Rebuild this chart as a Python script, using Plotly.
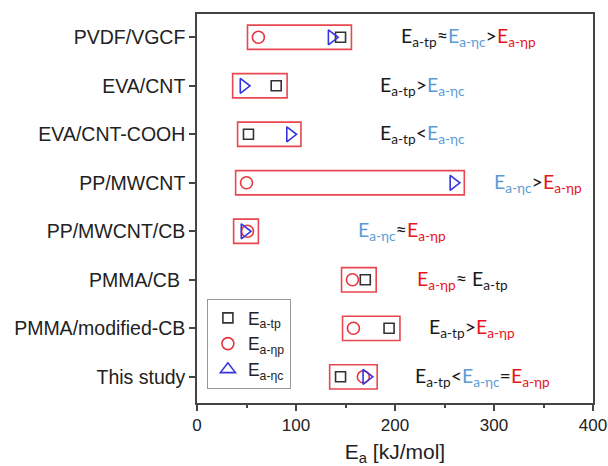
import plotly.graph_objects as go

# ---- data (top row first) ----
systems = ["PVDF/VGCF", "EVA/CNT", "EVA/CNT-COOH", "PP/MWCNT", "PP/MWCNT/CB",
           "PMMA/CB ", "PMMA/modified-CB", "This study"]
E_tp = [145, 80, 52, None, None, 170, 194, 145]
E_np = [62, None, None, 50, 51, 157, 158, 168]
E_nc = [136, 47, 94, 259, 48, None, None, 171]

BLK = "#1a1a1a"
BLU = "#5b9bd5"
RED = "#e8141c"

def tp(): return "E<sub>a-tp</sub>"
def nc(): return f"<span style='color:{BLU}'>E<sub>a-ηc</sub></span>"
def npp(): return f"<span style='color:{RED}'>E<sub>a-ηp</sub></span>"

relations = [
    f"{tp()}≈{nc()}&gt;{npp()}",
    f"{tp()}&gt;{nc()}",
    f"{tp()}&lt;{nc()}",
    f"{nc()}&gt;{npp()}",
    f"{nc()}≈{npp()}",
    f"{npp()}≈ {tp()}",
    f"{tp()}&gt;{npp()}",
    f"{tp()}&lt;{nc()}={npp()}",
]
label_x = [204, 183, 183, 298, 161, 220, 232, 218]

n = len(systems)
ypos = [n - 1 - i for i in range(n)]

fig = go.Figure()

def clean(xs):
    xx, yy = [], []
    for v, y in zip(xs, ypos):
        if v is not None:
            xx.append(v); yy.append(y)
    return xx, yy

x, y = clean(E_tp)
fig.add_trace(go.Scatter(x=x, y=y, mode="markers", showlegend=False,
    marker=dict(symbol="square-open", size=10, color="#333333", line=dict(width=1.6))))
x, y = clean(E_np)
fig.add_trace(go.Scatter(x=x, y=y, mode="markers", showlegend=False,
    marker=dict(symbol="circle-open", size=12, color="#e8343c", line=dict(width=1.6))))
x, y = clean(E_nc)
fig.add_trace(go.Scatter(x=x, y=y, mode="markers", showlegend=False,
    marker=dict(symbol="triangle-right-open", size=13, color="#3535dd", line=dict(width=1.6))))

# legend entries
fig.add_trace(go.Scatter(x=[None], y=[None], mode="markers", name="E<sub>a-tp</sub>",
    marker=dict(symbol="square-open", size=10, color="#333333", line=dict(width=1.6))))
fig.add_trace(go.Scatter(x=[None], y=[None], mode="markers", name="E<sub>a-ηp</sub>",
    marker=dict(symbol="circle-open", size=12, color="#e8343c", line=dict(width=1.6))))
fig.add_trace(go.Scatter(x=[None], y=[None], mode="markers", name="E<sub>a-ηc</sub>",
    marker=dict(symbol="triangle-up-open", size=13, color="#3535dd", line=dict(width=1.6))))

# red boxes around each system's values
pad = 11
for i in range(n):
    vals = [v for v in (E_tp[i], E_np[i], E_nc[i]) if v is not None]
    fig.add_shape(type="rect", xref="x", yref="y",
                  x0=min(vals) - pad, x1=max(vals) + pad,
                  y0=ypos[i] - 0.25, y1=ypos[i] + 0.25,
                  line=dict(color="#e8474f", width=1.6), fillcolor="rgba(0,0,0,0)")
    fig.add_annotation(x=label_x[i], y=ypos[i], xref="x", yref="y",
                       text=relations[i], showarrow=False, xanchor="left", yanchor="middle",
                       font=dict(family="Lato", size=19.5, color=BLK))

fig.update_layout(
    width=608, height=466,
    margin=dict(l=197, r=15, t=14, b=63),
    plot_bgcolor="white", paper_bgcolor="white",
    font=dict(family="Liberation Sans, Arial", size=17, color="#222222"),
    legend=dict(x=0.025, y=0.036, xanchor="left", yanchor="bottom",
                bordercolor="#999999", borderwidth=1, bgcolor="white",
                font=dict(size=17.5, color="#222222"), tracegroupgap=0, itemwidth=30),
    xaxis=dict(range=[0, 400], tickvals=[0, 100, 200, 300, 400], automargin=False,
               ticks="outside", ticklen=6, tickwidth=1.5, tickcolor="#444444",
               minor=dict(tickvals=[50, 150, 250, 350], ticks="outside", ticklen=3,
                          tickwidth=1.5, tickcolor="#444444"),
               showline=True, linecolor="#444444", linewidth=1.5, mirror=True,
               showgrid=False, zeroline=False,
               tickfont=dict(size=17),
               title=dict(text="E<sub>a</sub> [kJ/mol]", font=dict(size=21), standoff=18)),
    yaxis=dict(range=[-0.54, 7.48], tickvals=ypos, ticktext=systems, automargin=False,
               ticks="outside", ticklen=6, tickwidth=1.5, tickcolor="#444444",
               showline=True, linecolor="#444444", linewidth=1.5, mirror=True,
               showgrid=False, zeroline=False, tickfont=dict(size=19.5)),
)

fig.write_html("out.html")
